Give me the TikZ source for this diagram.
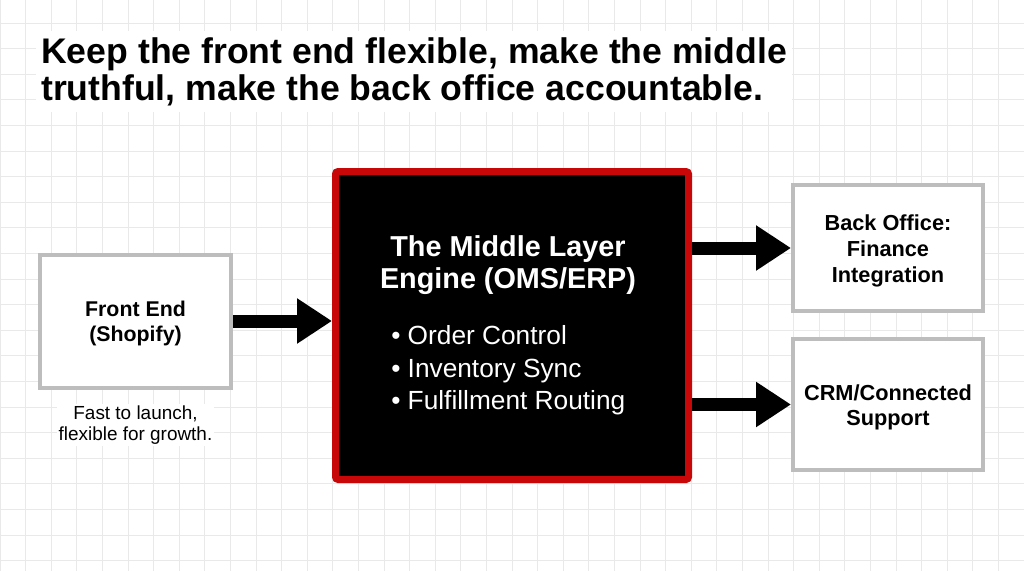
\documentclass[tikz,border=0pt]{standalone}
\usepackage{fontspec}
\setmainfont{Liberation Sans}
\usetikzlibrary{arrows.meta}
\definecolor{gridc}{HTML}{E9E9E9}
\definecolor{boxgray}{HTML}{BDBDBD}
\definecolor{engred}{HTML}{C80808}
\tikzset{
  gridline/.style={draw=gridc, line width=0.75pt},
  plainbox/.style={draw=boxgray, line width=3pt, fill=white, inner sep=0pt},
  engine/.style={draw=engred, line width=5.25pt, fill=black, rounded corners=2pt, inner sep=0pt},
  boxtext/.style={font=\bfseries\fontsize{16.3pt}{19.2pt}\selectfont, align=center, inner sep=0pt},
  fatarrow/.style={line width=9.75pt, -{Triangle[length=26.25pt, width=32.25pt]}},
}
\begin{document}
\begin{tikzpicture}[x=0.75pt, y=-0.75pt]
\useasboundingbox[fill=white] (0,0) rectangle (1024,571);
% grid
\foreach \i in {0,...,40} {
  \draw[gridline] ({\i*25.6},0) -- ({\i*25.6},571);
}
\foreach \j in {1,...,23} {
  \draw[gridline] (0,{\j*25.6-2.5}) -- (1024,{\j*25.6-2.5});
}
% title
\node[anchor=west, fill=white, inner xsep=3.75pt, inner ysep=5pt, align=left,
      font=\bfseries\fontsize{26.7pt}{27.75pt}\selectfont] (title) at (36,71.5)
  {Keep the front end flexible, make the middle\\truthful, make the back office accountable.};
% boxes
\node[plainbox, minimum width=143.25pt, minimum height=99.75pt] (front) at (135.5,321.5) {};
\node[engine, minimum width=264.75pt, minimum height=231pt] (middle) at (512,325.5) {};
\node[plainbox, minimum width=142.5pt, minimum height=94.5pt] (back) at (888,248) {};
\node[plainbox, minimum width=142.5pt, minimum height=98.25pt] (crm) at (888,404.5) {};
% texts
\node[boxtext, font=\bfseries\fontsize{16pt}{18.75pt}\selectfont] (fronttext) at (135.5,323.5) {Front End\\(Shopify)};
\node[fill=white, inner sep=1.5pt, align=center, font=\fontsize{14.2pt}{16pt}\selectfont] (caption) at (135.5,425) {Fast to launch,\\flexible for growth.};
\node[boxtext, text=white, font=\bfseries\fontsize{21.6pt}{24.4pt}\selectfont] (mtitle) at (508,265) {The Middle Layer\\Engine (OMS/ERP)};
\node[anchor=west, text=white, align=left, inner sep=0pt, font=\fontsize{19.7pt}{24.4pt}\selectfont] (bullets) at (391,370.5)
  {\textbullet\ Order Control\\\textbullet\ Inventory Sync\\\textbullet\ Fulfillment Routing};
\node[boxtext] (backtext) at (888,251) {Back Office:\\Finance\\Integration};
\node[boxtext] (crmtext) at (888,407.5) {CRM/Connected\\Support};
% arrows
\draw[fatarrow] (front.east |- 0,321) -- (middle.west |- 0,321);
\draw[fatarrow] (middle.east |- back.west) -- (back.west);
\draw[fatarrow] (middle.east |- crm.west) -- (crm.west);
\end{tikzpicture}
\end{document}
